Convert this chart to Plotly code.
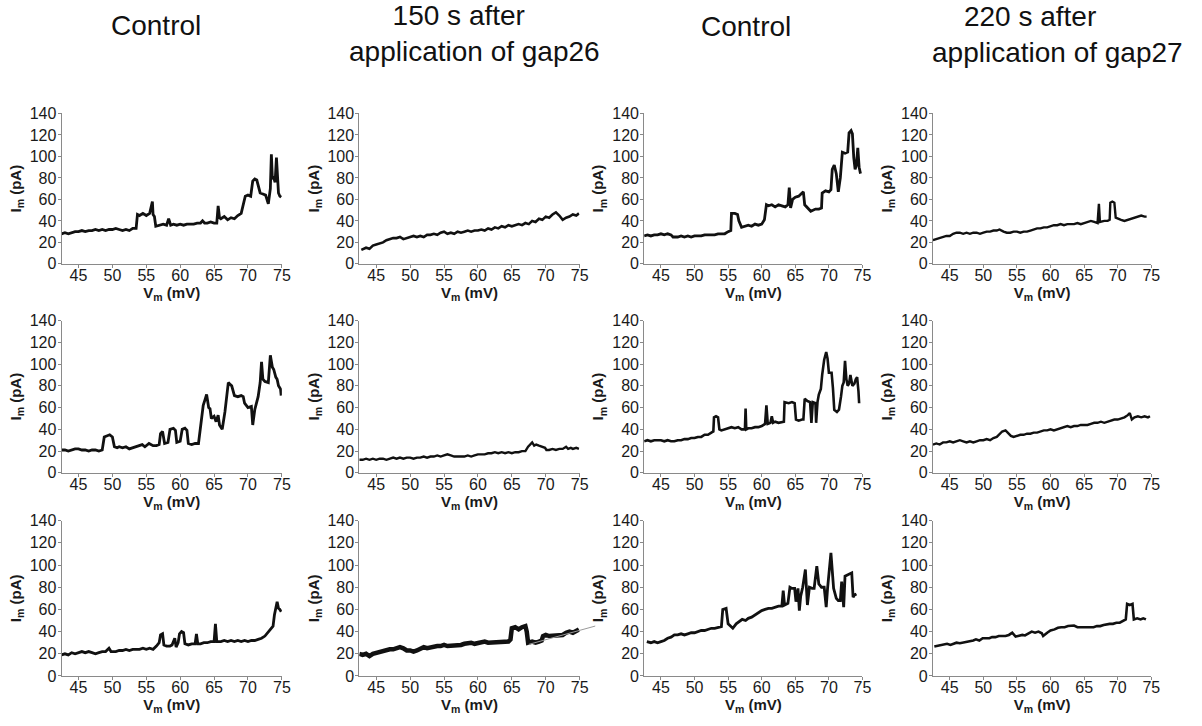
import plotly.graph_objects as go

# ---------------- data (V_m in mV, I_m in pA) ----------------
trace_r1c1 = [(42.5,28),(43,29),(43.5,28),(44,29),(44.5,30),(45,30),(45.5,31),(46,30),(46.5,31),(47,31),(47.5,32),(48,31),(48.5,32),(49,31),(49.5,32),(50,32),(50.5,33),(51,32),(51.5,31),(52,32),(52.5,31),(53,33),(53.5,33),(53.7,46),(54,45),(54.5,47),(55,45),(55.5,47),(55.9,58),(56.0,46),(56.2,44),(56.4,35),(57,36),(57.5,37),(58,36),(58.3,42),(58.6,36),(59,37),(59.5,36),(60,37),(60.5,36),(61,37),(61.5,37),(62,37),(62.5,38),(63,38),(63.3,40),(63.6,38),(64,38),(64.5,39),(65,38),(65.4,38),(65.6,54),(65.8,43),(66,42),(66.5,44),(67,41),(67.5,43),(68,42),(68.5,45),(69,47),(69.3,56),(69.6,63),(70,64),(70.4,63),(70.7,77),(71,79),(71.3,78),(71.6,70),(71.8,66),(72.2,65),(72.6,64),(73,56),(73.3,70),(73.45,102),(73.6,79),(73.8,80),(74.0,76),(74.2,99),(74.35,77),(74.5,66),(74.7,63),(74.9,62)]
trace_r1c2 = [(42.8,13),(43.5,15),(44,14),(44.5,17),(45,18),(45.5,19),(46,20),(46.5,22),(47,23),(47.5,24),(48,24),(48.5,25),(49,23),(49.5,24),(50,25),(50.5,26),(51,25),(51.5,26),(52,25),(52.5,27),(53,27),(53.5,28),(54,27),(54.5,29),(55,30),(55.5,28),(56,29),(56.5,28),(57,30),(57.5,29),(58,30),(58.5,31),(59,30),(59.5,31),(60,31),(60.5,32),(61,31),(61.5,33),(62,32),(62.5,34),(63,33),(63.5,35),(64,34),(64.5,36),(65,35),(65.5,36),(66,37),(66.5,36),(67,38),(67.5,37),(68,40),(68.5,39),(69,42),(69.5,41),(70,44),(70.5,43),(71,46),(71.5,48),(72,45),(72.5,41),(73,43),(73.5,44),(74,46),(74.5,45),(74.9,47)]
trace_r1c3 = [(42.5,26),(43,27),(43.5,26),(44,27),(44.5,27),(45,28),(45.5,27),(46,28),(46.5,27),(46.8,25),(47.5,25),(48,26),(48.5,25),(49,26),(49.5,25),(50,26),(50.5,26),(51,26),(51.5,27),(52,27),(52.5,27),(53,27),(53.5,28),(54,28),(54.5,28),(55,30),(55.4,31),(55.5,47),(56,47),(56.4,46),(56.6,40),(57,34),(57.5,35),(58,36),(58.5,35),(59,37),(59.5,36),(60,37),(60.4,41),(60.7,55),(61,54),(61.5,55),(62,53),(62.5,55),(63,54),(63.5,53),(63.9,55),(64.1,71),(64.3,52),(64.6,60),(65,62),(65.5,63),(66,66),(66.2,67),(66.4,55),(66.8,52),(67.3,49),(68,51),(68.5,51),(68.9,52),(69.0,66),(69.5,68),(70,67),(70.3,69),(70.5,88),(70.8,92),(71.1,84),(71.4,67),(71.7,80),(72,104),(72.4,103),(72.8,104),(73,122),(73.3,124),(73.5,121),(73.7,99),(73.9,88),(74.1,92),(74.3,108),(74.5,90),(74.7,84)]
trace_r1c4 = [(42.5,22),(43,23),(43.5,24),(44,25),(44.5,26),(45,26),(45.5,28),(46,29),(46.5,29),(47,28),(47.5,29),(48,28),(48.5,29),(49,29),(49.5,28),(50,29),(50.5,30),(51,30),(51.5,31),(52,31),(52.4,32),(53,30),(53.5,29),(54,29),(54.5,30),(55,30),(55.5,29),(56,30),(56.5,30),(57,31),(57.5,32),(58,33),(58.5,33),(59,34),(59.5,34),(60,35),(60.5,36),(61,36),(61.5,37),(62,36),(62.5,37),(63,37),(63.5,37),(64,38),(64.5,37),(65,38),(65.5,39),(66,40),(66.5,39),(67.0,38),(67.2,56),(67.35,39),(68,40),(68.5,40),(68.8,41),(68.9,57),(69.2,58),(69.5,57),(69.7,43),(70,42),(70.5,41),(71,40),(71.5,41),(72,42),(72.5,43),(73,44),(73.5,45),(74,44),(74.3,44)]
trace_r2c1 = [(42.5,21),(43,21),(43.5,20),(44,21),(44.5,22),(45,22),(45.5,21),(46,21),(46.5,20),(47,21),(47.5,21),(48,20),(48.5,21),(48.8,33),(49.2,34),(49.6,35),(50,33),(50.3,24),(50.7,23),(51,24),(51.5,23),(52,24),(52.5,22),(53,23),(53.5,24),(54,25),(54.4,26),(54.8,24),(55.4,27),(56,25),(56.5,25),(56.9,26),(57.1,36),(57.4,38),(57.7,27),(58.2,28),(58.5,40),(59,41),(59.3,39),(59.5,28),(60,29),(60.3,40),(60.7,41),(61,39),(61.2,27),(61.7,26),(62.2,27),(62.7,27),(63,40),(63.4,62),(63.7,68),(63.9,72),(64.2,60),(64.4,59),(64.6,50),(65,52),(65.3,47),(65.6,53),(65.8,44),(66.2,40),(66.6,56),(66.9,70),(67.1,83),(67.4,81),(67.6,80),(68,71),(68.5,70),(69,71),(69.3,70),(69.5,64),(70,60),(70.5,61),(70.7,44),(71,58),(71.2,62),(71.5,70),(71.8,83),(72,102),(72.2,86),(72.5,84),(73,83),(73.3,108),(73.6,97),(73.8,95),(74.1,88),(74.3,86),(74.5,80),(74.8,77),(74.9,71)]
trace_r2c2 = [(42.5,12),(43,12),(43.5,13),(44,12),(44.5,13),(45,12),(45.5,13),(46,13),(46.5,12),(47,13),(47.5,14),(48,13),(48.5,14),(49,13),(49.5,14),(50,14),(50.5,13),(51,14),(51.5,14),(52,15),(52.5,14),(53,15),(53.5,15),(54,16),(54.5,15),(55,16),(55.5,17),(56,16),(56.5,15),(57,15),(57.5,15),(58,15),(58.5,16),(59,15),(59.5,16),(60,17),(60.5,17),(61,17),(61.5,18),(62,18),(62.5,19),(63,18),(63.5,19),(64,18),(64.5,19),(65,18),(65.5,19),(66,19),(66.5,20),(67,20),(67.4,24),(67.7,26),(68,28),(68.3,25),(68.6,26),(69,25),(69.5,24),(69.9,23),(70.1,21),(70.5,21),(71,22),(71.5,21),(72,22),(72.5,22),(73,24),(73.3,22),(73.7,23),(74,22),(74.5,23),(74.9,22)]
trace_r2c3 = [(42.5,29),(43,30),(43.5,29),(44,30),(44.5,30),(45,30),(45.5,29),(46,30),(46.5,29),(47,29),(47.5,30),(48,30),(48.5,31),(49,31),(49.5,32),(50,32),(50.5,33),(51,33),(51.5,35),(52,35),(52.5,37),(52.8,38),(52.9,51),(53.2,52),(53.5,51),(53.7,40),(54,39),(54.5,40),(55,41),(55.5,42),(56,41),(56.5,42),(57,40),(57.5,40),(57.6,59),(57.7,40),(58,41),(58.5,41),(59,42),(59.5,42),(60,43),(60.5,45),(60.7,62),(60.9,45),(61.3,46),(61.5,52),(61.7,46),(62,47),(62.5,46),(63,47),(63.3,47),(63.4,65),(64,64),(64.5,65),(64.9,64),(65.1,49),(65.5,48),(66,49),(66.2,49),(66.4,68),(66.8,66),(67.2,65),(67.4,46),(67.6,65),(68,64),(68.1,46),(68.3,65),(68.5,72),(68.8,77),(69,90),(69.3,104),(69.6,111),(69.8,105),(70,92),(70.4,92),(70.6,78),(70.8,58),(71.2,56),(71.5,58),(71.8,70),(72,80),(72.2,83),(72.4,103),(72.6,86),(72.8,80),(73,82),(73.2,90),(73.5,80),(73.8,82),(74,86),(74.2,88),(74.4,75),(74.5,64)]
trace_r2c4 = [(42.5,26),(43,27),(43.5,26),(44,28),(44.5,28),(45,29),(45.5,28),(46,29),(46.5,30),(47,29),(47.5,28),(48,29),(48.5,28),(49,29),(49.5,30),(50,30),(50.5,31),(51,30),(51.5,32),(52,33),(52.4,36),(52.8,38),(53.3,39),(53.7,36),(54.1,34),(54.5,33),(55,34),(55.5,35),(56,35),(56.5,36),(57,36),(57.5,37),(58,37),(58.5,38),(59,39),(59.5,39),(60,40),(60.5,39),(61,40),(61.5,41),(62,42),(62.5,43),(63,42),(63.5,43),(64,43),(64.5,44),(65,44),(65.5,44),(66,45),(66.5,46),(67,46),(67.5,47),(68,46),(68.5,47),(69,48),(69.5,49),(70,49),(70.5,50),(71,51),(71.5,53),(71.8,55),(72.1,49),(72.5,51),(73,52),(73.5,51),(74,52),(74.5,51),(74.8,52)]
trace_r3c1 = [(42.5,19),(43,20),(43.5,19),(44,21),(44.5,20),(45,21),(45.5,22),(46,21),(46.5,22),(47,21),(47.5,20),(48,21),(48.5,22),(49,22),(49.5,25),(49.8,22),(50.5,22),(51,23),(51.5,23),(52,24),(52.5,23),(53,24),(53.5,24),(54,24),(54.5,25),(55,24),(55.5,25),(56,24),(56.5,27),(56.9,30),(57.1,37),(57.4,38),(57.6,28),(58,27),(58.5,27),(58.8,28),(59.2,34),(59.4,26),(59.7,30),(59.9,38),(60.2,40),(60.5,39),(60.7,29),(61.2,28),(61.7,29),(62.2,29),(62.4,38),(62.6,29),(63,29),(63.5,30),(64,30),(64.5,31),(65.0,31),(65.2,47),(65.4,31),(66,31),(66.5,32),(67,31),(67.5,32),(68,31),(68.5,32),(69,31),(69.5,32),(70,31),(70.5,32),(71,32),(71.5,33),(72,34),(72.5,36),(72.9,39),(73.3,41),(73.7,45),(73.9,55),(74.1,62),(74.3,67),(74.5,61),(74.7,60),(74.9,58)]
trace_r3c2 = [(42.5,20),(43,19),(43.5,20),(44,18),(44.5,20),(45,21),(45.5,21),(46,22),(46.5,23),(47,24),(47.5,24),(48,25),(48.5,26),(49,25),(49.5,23),(50,23),(50.5,22),(51,23),(51.5,24),(52,26),(52.5,25),(53,26),(53.5,26),(54,27),(54.5,27),(55,28),(55.5,27),(56,27),(56.5,27),(57,27),(57.5,28),(58,29),(58.5,30),(59,30),(59.5,29),(60,30),(60.5,30),(61,31),(61.5,30),(62,30),(62.5,31),(63,30),(63.5,30),(64,30),(64.5,31),(64.8,33),(65.0,43),(65.5,44),(66,42),(66.5,44),(67,45),(67.2,40),(67.4,30),(68,31),(68.5,30),(69,31),(69.4,32),(69.6,36),(70,37),(70.5,36),(71,36),(71.5,37),(72,36),(72.5,37),(73,39),(73.5,40),(74,39),(74.5,41),(74.9,42)]
fit_r3c2 = [(67.5,28.5),(77.3,45)]
trace_r3c3 = [(42.9,31),(43.5,30),(44,31),(44.5,30),(45,31),(45.5,32),(46,34),(46.5,35),(47,37),(47.5,37),(48,38),(48.5,37),(49,38),(49.5,39),(50,39),(50.5,40),(51,41),(51.5,41),(52,42),(52.5,43),(53,43),(53.5,44),(54,44.5),(54.2,60),(54.7,61),(55,47),(55.4,45),(55.7,43),(56.2,47),(56.7,49),(57.1,51),(57.6,50),(58,52),(58.5,53),(59,55),(59.5,57),(60,59),(60.5,60),(61,61),(61.5,61),(62,62),(62.5,63),(63,63),(63.2,77),(63.4,64),(63.9,65.5),(64.2,80),(64.5,79),(64.9,79),(65.1,67),(65.4,79),(65.6,59),(65.8,72),(66.1,80),(66.5,96),(66.8,64),(67.1,80),(67.5,79),(67.8,79),(68.2,99),(68.5,83),(68.9,80),(69.3,80),(69.6,62),(69.8,79),(70.3,111),(70.7,79),(71.1,70),(71.4,68),(71.7,68),(71.9,85),(72.2,62),(72.4,90),(72.8,91),(73.1,92),(73.4,93),(73.6,71),(73.8,73),(74.1,74)]
trace_r3c4 = [(42.7,26.5),(43.2,27),(43.7,28),(44.1,28),(44.6,29),(45.1,28),(45.6,29),(46,30),(46.5,29.5),(47,30),(47.5,31),(48,31),(48.5,32),(48.9,33),(49.4,32),(49.9,34),(50.4,34),(50.9,34),(51.3,35),(51.8,35),(52.3,36),(52.8,36),(53.3,36),(53.8,37),(54.3,39),(54.8,35.5),(55.3,36),(55.8,37),(56.2,36.5),(56.7,38),(57.2,40),(57.7,39),(58.2,40),(58.7,38.5),(58.9,36),(59.5,39),(60,41),(60.6,42),(61.1,43.5),(61.6,44),(62.1,44),(62.6,45),(63,45),(63.5,45.5),(64,44),(64.5,44),(65,44),(65.5,44),(65.9,43.5),(66.4,44),(66.9,45),(67.4,45),(67.9,46),(68.3,46.5),(68.8,47),(69.3,47),(69.8,48),(70.3,48),(70.7,49.5),(71.2,51),(71.4,65),(71.8,64),(72.2,65),(72.4,51),(72.9,52),(73.4,51),(73.8,52),(74.2,51)]

traces = [
    [trace_r1c1, trace_r1c2, trace_r1c3, trace_r1c4],
    [trace_r2c1, trace_r2c2, trace_r2c3, trace_r2c4],
    [trace_r3c1, trace_r3c2, trace_r3c3, trace_r3c4],
]

col_titles = [
    ["Control"],
    ["150 s after", "application of gap26"],
    ["Control"],
    ["220 s after", "application of gap27"],
]
x_ticks = [45, 50, 55, 60, 65, 70, 75]
y_ticks = [0, 20, 40, 60, 80, 100, 120, 140]

# ---------------- layout geometry (pixels) ----------------
W, H = 1202, 726
FONT = "Arial, Liberation Sans, sans-serif"
COL_PX = [(62, 284), (362, 584), (649, 869), (940, 1160)]
ROW_PX = [(108, 262), (320, 476), (525, 684)]
X_RANGE = [42.5, 75]
Y_RANGE = [0, 140]
LINE_W = [[2.8, 2.6, 2.8, 2.4], [2.8, 2.4, 2.6, 2.4], [2.8, 4.5, 2.8, 2.6]]

# title block: centre (px), y centre (px), non-breaking spaces padding line 1
title_pos = [(157, 18, 0), (478, 26, 4), (752, 19, 0), (1065, 27, 7)]

fig = go.Figure()
layout = dict(
    width=W, height=H,
    margin=dict(l=0, r=0, t=0, b=0),
    paper_bgcolor="white", plot_bgcolor="rgba(0,0,0,0)",
    showlegend=False,
    font=dict(family=FONT, color="#1a1a1a"),
)

for r in range(3):
    for c in range(4):
        k = r * 4 + c + 1
        xa = "x" if k == 1 else f"x{k}"
        ya = "y" if k == 1 else f"y{k}"
        pts = traces[r][c]
        fig.add_trace(go.Scatter(
            x=[p[0] for p in pts], y=[p[1] for p in pts],
            mode="lines", line=dict(color="#111111", width=LINE_W[r][c]),
            xaxis=xa, yaxis=ya, hoverinfo="skip",
        ))
        x0, x1 = COL_PX[c]
        y0, y1 = ROW_PX[r]
        layout["xaxis" if k == 1 else f"xaxis{k}"] = dict(
            domain=[x0 / W, x1 / W], range=X_RANGE, anchor=ya,
            tickmode="array", tickvals=x_ticks,
            ticks="outside", ticklen=3, tickcolor="#888",
            ticklabelstandoff=-6,
            showline=True, linecolor="#8a8a8a", linewidth=1,
            showgrid=False, zeroline=False,
            tickfont=dict(size=16, color="#1a1a1a", family=FONT),
            title=dict(text="<b>V<sub>m</sub> (mV)</b>",
                       font=dict(size=15, color="#1a1a1a", family=FONT), standoff=1),
        )
        layout["yaxis" if k == 1 else f"yaxis{k}"] = dict(
            domain=[1 - y1 / H, 1 - y0 / H], range=Y_RANGE, anchor=xa,
            tickmode="array", tickvals=y_ticks,
            ticks="outside", ticklen=3, tickcolor="#888",
            ticklabelstandoff=-2,
            showline=True, linecolor="#8a8a8a", linewidth=1,
            showgrid=False, zeroline=False,
            tickfont=dict(size=16, color="#1a1a1a", family=FONT),
            title=dict(text="<b>I<sub>m</sub> (pA)</b>",
                       font=dict(size=15, color="#1a1a1a", family=FONT), standoff=4),
        )

# grey fitted line in the (row 3, col 2) panel, which runs past the axis end
x0, x1 = COL_PX[1]
y0, y1 = ROW_PX[2]
px_per_mv = (x1 - x0) / (X_RANGE[1] - X_RANGE[0])
ext_px = 18
fig.add_trace(go.Scatter(
    x=[p[0] for p in fit_r3c2], y=[p[1] for p in fit_r3c2],
    mode="lines", line=dict(color="#9a9a9a", width=1),
    xaxis="x13", yaxis="y13", hoverinfo="skip",
))
layout["xaxis13"] = dict(domain=[x0 / W, (x1 + ext_px) / W],
                         range=[X_RANGE[0], X_RANGE[1] + ext_px / px_per_mv],
                         anchor="y13", visible=False)
layout["yaxis13"] = dict(domain=[1 - y1 / H, 1 - y0 / H], range=Y_RANGE,
                         anchor="x13", visible=False)

annotations = []
for lines, (px, py, pad) in zip(col_titles, title_pos):
    if len(lines) == 1:
        txt = lines[0]
    else:
        txt = lines[0] + "\u00a0" * pad + "<br>" + lines[1]
    annotations.append(dict(
        text=txt, x=px / W, y=1 - py / H, xref="paper", yref="paper",
        xanchor="center", yanchor="middle", align="center", showarrow=False,
        font=dict(size=28, color="#111111", family=FONT),
    ))
layout["annotations"] = annotations

fig.update_layout(**layout)
fig.write_html("out.html")
